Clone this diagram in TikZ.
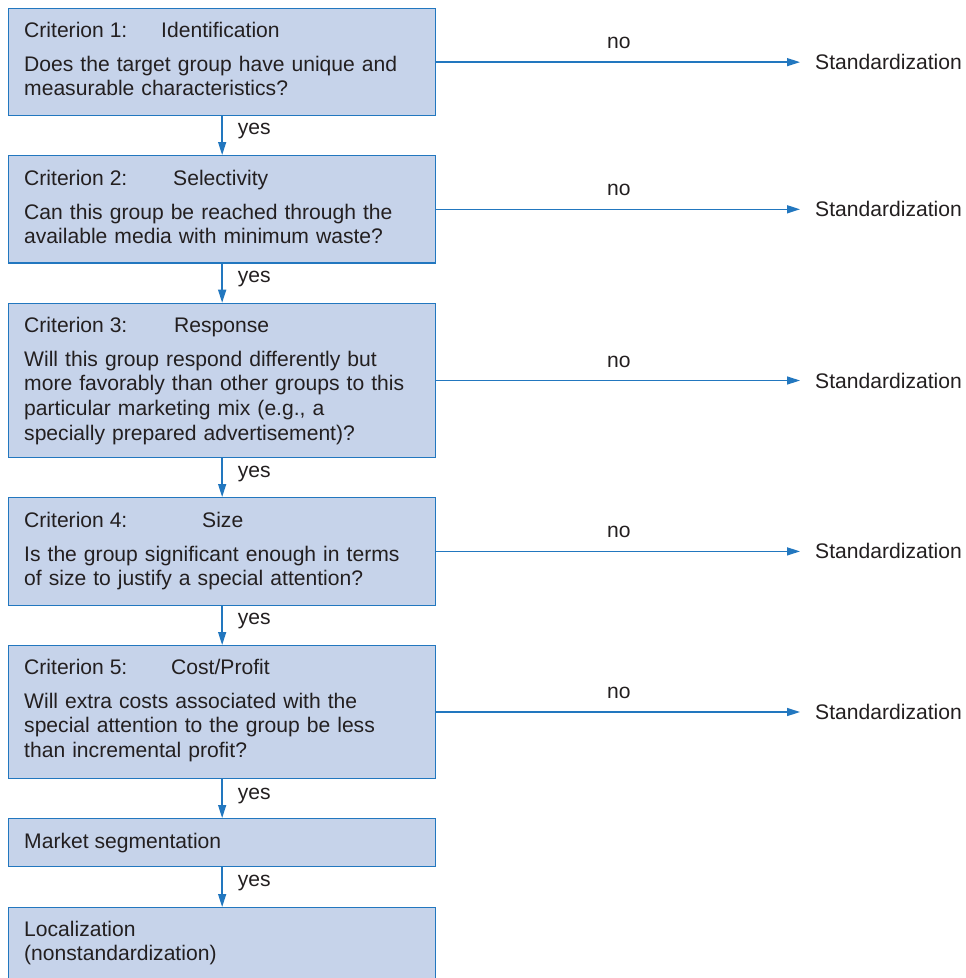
\documentclass[tikz,border=0pt]{standalone}
\usepackage{fontspec}
\setmainfont{Liberation Sans}
\usetikzlibrary{arrows.meta}
\definecolor{boxfill}{HTML}{C6D3EA}
\definecolor{boxline}{HTML}{2277BF}
\definecolor{txt}{HTML}{231F20}
\begin{document}
\begin{tikzpicture}[x=1pt,y=-1pt,
  font=\fontsize{21.1}{24.7}\selectfont, text=txt,
  box/.style={draw=boxline, line width=1.3pt, fill=boxfill, anchor=north west,
    inner sep=0pt, minimum width=427pt},
  lbl/.style={anchor=base west, inner sep=0pt},
  para/.style={anchor=base west, inner sep=0pt, text width=405pt, align=left},
  flow/.style={draw=boxline, line width=1.4pt, -{Triangle[length=13pt,width=8pt]}},
  stdz/.style={anchor=west, inner sep=0pt}]
\clip (0,0) rectangle (966,978);
\fill[white] (0,0) rectangle (966,978);

% boxes
\node[box, minimum height=107pt]   (c1) at (8,8) {};
\node[box, minimum height=107.3pt] (c2) at (8,155) {};
\node[box, minimum height=154.3pt] (c3) at (8,302.7) {};
\node[box, minimum height=107.5pt] (c4) at (8,497) {};
\node[box, minimum height=132.7pt] (c5) at (8,645) {};
\node[box, minimum height=48pt]    (ms) at (8,818) {};
\node[box, minimum height=90pt]    (lo) at (8,907) {};

% box texts
\node[lbl] (c1a) at (24,37) {Criterion 1:};
\node[lbl] (c1b) at (161,37) {Identification};
\node[para] (c1q) at (24,71) {Does the target group have unique and\\measurable characteristics?};

\node[lbl] (c2a) at (24,185) {Criterion 2:};
\node[lbl] (c2b) at (173,185) {Selectivity};
\node[para] (c2q) at (24,219) {Can this group be reached through the\\available media with minimum waste?};

\node[lbl] (c3a) at (24,332) {Criterion 3:};
\node[lbl] (c3b) at (174,332) {Response};
\node[para] (c3q) at (24,366) {Will this group respond differently but\\more favorably than other groups to this\\particular marketing mix (e.g., a\\specially prepared advertisement)?};

\node[lbl] (c4a) at (24,527) {Criterion 4:};
\node[lbl] (c4b) at (202,527) {Size};
\node[para] (c4q) at (24,561) {Is the group significant enough in terms\\of size to justify a special attention?};

\node[lbl] (c5a) at (24,674) {Criterion 5:};
\node[lbl] (c5b) at (171,674) {Cost/Profit};
\node[para] (c5q) at (24,708) {Will extra costs associated with the\\special attention to the group be less\\than incremental profit?};

\node[lbl] (mst) at (24,848) {Market segmentation};
\node[para] (lot) at (24,936) {Localization\\(nonstandardization)};

% standardization targets
\node[stdz] (s1) at (c1.east -| 815,0) {Standardization};
\node[stdz] (s2) at (c2.east -| 815,0) {Standardization};
\node[stdz] (s3) at (c3.east -| 815,0) {Standardization};
\node[stdz] (s4) at (c4.east -| 815,0) {Standardization};
\node[stdz] (s5) at (c5.east -| 815,0) {Standardization};

% no arrows
\foreach \i in {1,...,5}{
  \draw[flow, shorten >=15pt] (c\i.east) -- node[pos=0.482, anchor=base, yshift=13.5pt, inner sep=0pt] {no} (s\i.west);
}

% yes arrows
\draw[flow] (c1.south) -- (c2.north);
\draw[flow] (c2.south) -- (c3.north);
\draw[flow] (c3.south) -- (c4.north);
\draw[flow] (c4.south) -- (c5.north);
\draw[flow] (c5.south) -- (ms.north);
\draw[flow] (ms.south) -- (lo.north);

\node[lbl] (y1) at ([shift={(15.5,18.5)}]c1.south) {yes};
\node[lbl] (y2) at ([shift={(15.5,19)}]c2.south) {yes};
\node[lbl] (y3) at ([shift={(15.5,19.5)}]c3.south) {yes};
\node[lbl] (y4) at ([shift={(15.5,18.5)}]c4.south) {yes};
\node[lbl] (y5) at ([shift={(15.5,20)}]c5.south) {yes};
\node[lbl] (y6) at ([shift={(15.5,19)}]ms.south) {yes};
\end{tikzpicture}
\end{document}
